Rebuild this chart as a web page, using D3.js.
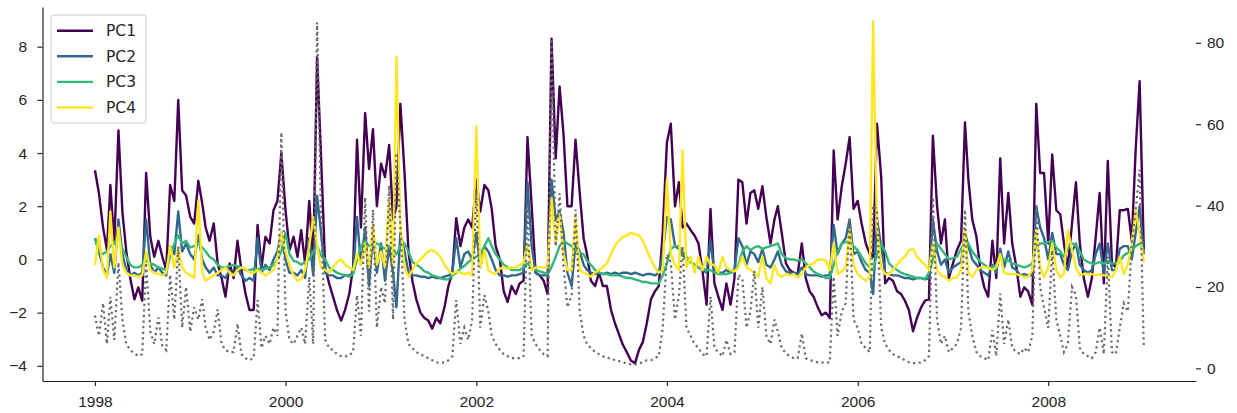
<!DOCTYPE html>
<html lang="en">
<head>
<meta charset="UTF-8">
<title>PC1-PC4 time series</title>
<script src="https://d3js.org/d3.v7.min.js"></script>
<style>
  body { margin: 0; background: #fff; }
  svg { display: block; font-family: 'DejaVu Sans', sans-serif; }
  .axis text { font-size: 15.5px; fill: #262626; }
  .axis path, .axis line { stroke: #262626; stroke-width: 1.2; }
</style>
</head>
<body>
<svg id="chart" width="1237" height="413"></svg>
<script>
// half-month samples from 1998-01-01 to 2009-01-01
const pc1 = [
  3.35, 2.5, 1.2, 0.35, 2.8, 0.6, 4.85, 1.8, 0.3, -0.7,
  -1.5, -1.05, -1.55, 3.25, 0.85, 0.1, 0.7, 0.1, -0.4, 2.8,
  2.2, 6.0, 2.6, 2.4, 1.6, 1.35, 2.95, 2.1, 1.2, 0.7,
  1.35, -0.15, -0.7, -1.4, -0.15, -0.7, 0.7, -0.4, -1.3, -1.9,
  -1.9, 1.3, -0.3, 0.85, 0.6, 1.85, 2.2, 4.0, 1.85, 0.35,
  0.85, 0.1, 1.1, -0.15, 2.2, -0.15, 7.6, 3.9, -0.3, -0.9,
  -1.4, -1.9, -2.3, -1.9, -1.3, -0.3, 4.5, 1.2, 5.5, 3.4,
  4.9, 2.0, 3.6, 3.1, 4.3, 1.5, 2.0, 5.85, 3.25, 0.3,
  -0.8, -1.5, -2.0, -2.2, -2.3, -2.6, -2.2, -2.4, -1.8, -1.0,
  -0.5, 1.55, 0.5, 1.2, 1.5, 1.2, 3.0, 1.8, 2.8, 2.6,
  1.9, 0.5, 0.0, -1.2, -1.6, -1.0, -1.3, -0.9, -0.8, 4.6,
  2.0, -0.5, -0.6, -0.8, -1.3, 8.3, 3.8, 6.5, 4.7, 2.0,
  2.0, 4.5, 2.5, 0.8, 0.2, -0.8, -1.0, -0.5, -1.0, -1.0,
  -1.9, -2.4, -2.8, -3.2, -3.5, -3.8, -3.9, -3.4, -3.1, -2.4,
  -1.5, -1.2, -1.0, 1.0, 4.4, 5.1, 2.0, 2.9, 1.2, 1.35,
  1.1, 0.9, 0.6, -0.4, -1.7, 1.9, -0.9, -1.4, -1.9, -0.9,
  -1.7, -0.7, 3.0, 2.9, 1.35, 2.5, 2.6, 1.9, 2.75, 1.6,
  0.6, 1.5, 2.0, 1.0, -0.15, -0.4, -0.5, -0.55, 0.6, -0.7,
  -1.2, -1.4, -1.8, -2.1, -2.0, -2.2, 4.1, 1.5, 2.75, 3.6,
  4.6, 1.9, 2.2, 1.35, 0.6, 0.2, 0.1, 5.1, 3.1, -0.9,
  -0.7, -0.8, -1.2, -1.3, -1.55, -1.9, -2.7, -2.2, -1.8, -1.55,
  -1.5, 4.65, 2.0, 0.6, 1.5, -0.7, -0.15, 0.35, 0.7, 5.15,
  3.0, 1.5, 0.85, -0.4, -1.05, -1.4, 0.7, -0.7, 3.8, 0.6,
  2.5, 0.6, -0.3, -1.4, -1.05, -1.2, -1.7, 5.85, 3.25, 3.25,
  0.6, 3.95, 1.85, 1.7, 0.6, -0.3, 1.35, 2.9, 0.6, -0.7,
  -1.4, -0.7, 0.85, 2.5, -0.9, 3.7, -0.15, -0.3, 1.85, 1.85,
  1.9, 0.7, 4.15, 6.7, 0.35
];
const pc2 = [
  0.8, 0.3, -0.3, -0.6, 0.2, -0.5, 1.5, 0.2, -0.4, -0.6,
  -0.5, -0.6, -0.5, 1.5, -0.2, -0.5, -0.3, -0.5, -0.6, 0.5,
  0.2, 1.8, 0.3, 0.6, 0.2, 0.0, 0.9, 0.0, -0.3, -0.5,
  -0.3, -0.6, -0.6, -0.7, -0.4, -0.6, -0.3, -0.6, -0.8, -0.7,
  -0.8, 0.8, -0.5, -0.2, -0.4, 0.0, 0.3, 1.0, 0.0, -0.5,
  -0.5, -0.6, -0.4, -0.7, 0.8, -0.6, 2.4, 1.0, -0.5, -0.6,
  -0.6, -0.7, -0.7, -0.6, -0.6, -0.5, 1.6, -0.2, 1.2, -1.0,
  1.0, -0.5, 0.6, -0.8, 0.5, -0.5, -1.8, 1.0, 0.3, -0.5,
  -0.6, -0.6, -0.65, -0.65, -0.7, -0.65, -0.7, -0.7, -0.65, -0.6,
  -0.5, 0.8, -0.3, 0.2, 0.3, 0.0, 1.0, -0.3, 0.5, 0.3,
  0.0, -0.4, -0.6, -0.6, -0.65, -0.6, -0.6, -0.55, -0.5, 2.9,
  0.5, -0.5, -0.6, -0.6, -0.6, 3.0, 1.5, 1.8, 1.0, -0.5,
  -1.0, 0.6, 0.3, -0.2, -0.4, -0.5, -0.55, -0.5, -0.55, -0.5,
  -0.55, -0.5, -0.55, -0.5, -0.5, -0.55, -0.5, -0.55, -0.6, -0.55,
  -0.55, -0.6, -0.5, 0.2, 1.6, 1.5, 0.5, 0.4, 0.2, 0.0,
  -0.1, -0.2, -0.3, -0.4, -0.5, 0.7, -0.5, -0.5, -0.5, -0.4,
  -0.5, -0.4, 0.8, 0.5, -0.2, 0.3, 0.2, -0.1, 0.4, -0.2,
  -0.3, 0.0, 0.3, -0.2, -0.45, -0.5, -0.5, -0.55, -0.3, -0.55,
  -0.6, -0.6, -0.6, -0.65, -0.6, -0.6, 1.3, 0.2, 0.6, 0.8,
  1.5, 0.2, 0.3, -0.1, -0.4, -0.5, -1.3, 1.5, 0.5, -0.5,
  -0.55, -0.6, -0.6, -0.65, -0.7, -0.7, -0.75, -0.7, -0.7, -0.75,
  -0.7, 1.5, 0.3, -0.2, 0.0, -0.5, -0.3, -0.2, -0.1, 1.0,
  0.5, 0.0, -0.2, -0.4, -0.5, -0.6, -0.2, -0.5, 0.4, -0.3,
  0.3, -0.3, -0.4, -0.6, -0.55, -0.6, -0.6, 2.0, 1.2, 0.8,
  0.0, 1.0, 0.2, 0.2, -0.2, -0.4, 0.3, 0.6, -0.2, -0.4,
  -0.5, -0.4, 0.2, 0.6, -0.5, 0.6, -0.4, -0.4, 0.4, 0.5,
  0.5, 0.0, 1.0, 2.0, 0.2
];
const pc3 = [
  0.8, 0.3, 0.2, 0.3, 0.5, 0.6, 0.9, 0.4, 0.1, -0.2,
  -0.3, -0.3, -0.2, -0.05, -0.15, -0.2, -0.3, -0.35, -0.4, 0.1,
  0.6, 0.9, 0.6, 0.7, 0.45, 0.5, 0.6, 0.45, 0.3, 0.1,
  0.0, -0.2, -0.3, -0.3, -0.25, -0.2, -0.25, -0.3, -0.4, -0.4,
  -0.35, -0.35, -0.4, -0.35, -0.3, -0.2, 0.0, 0.3, 1.0, 0.2,
  -0.05, -0.1, -0.2, -0.1, 0.0, 0.3, 0.5, 0.15, 0.0, -0.3,
  -0.4, -0.5, -0.55, -0.6, -0.65, -0.55, 0.0, 0.5, 0.7, 0.5,
  0.55, 0.6, 0.5, 0.4, 0.5, 0.3, 0.2, 0.5, 0.6, 0.3,
  -0.1, -0.2, -0.3, -0.45, -0.5, -0.6, -0.65, -0.7, -0.75, -0.75,
  -0.6, -0.5, -0.35, -0.25, -0.1, 0.0, 0.1, 0.2, 0.5, 0.8,
  0.5, 0.2, 0.0, -0.2, -0.3, -0.4, -0.4, -0.4, -0.3, -0.15,
  -0.3, -0.4, -0.45, -0.5, -0.55, -0.3, 0.1, 0.5, 0.7, 0.6,
  0.5, 0.35, 0.25, 0.2, -0.05, -0.2, -0.4, -0.5, -0.55, -0.55,
  -0.6, -0.6, -0.6, -0.65, -0.7, -0.7, -0.75, -0.8, -0.85, -0.85,
  -0.9, -0.9, -0.9, -0.6, -0.15, 0.4, 0.5, 0.5, 0.3, 0.1,
  -0.1, -0.2, -0.3, -0.35, -0.4, -0.4, -0.5, -0.55, -0.55, -0.55,
  -0.5, -0.45, -0.2, 0.3, 0.5, 0.35, 0.45, 0.5, 0.4, 0.45,
  0.5, 0.55, 0.6, 0.2, 0.05, 0.0, 0.0, -0.05, 0.0, -0.15,
  -0.3, -0.45, -0.55, -0.6, -0.7, -0.7, -0.2, 0.3, 0.6, 0.65,
  0.7, 0.5, 0.35, 0.1, -0.15, -0.3, -0.4, 0.2, 0.6, 0.3,
  -0.15, -0.3, -0.4, -0.5, -0.55, -0.6, -0.65, -0.7, -0.7, -0.73,
  -0.5, 0.0, 0.6, 0.4, 0.2, 0.0, 0.05, 0.1, 0.4, 0.65,
  0.6, 0.3, 0.1, -0.1, -0.2, -0.3, -0.3, -0.2, 0.1, 0.0,
  -0.05, -0.15, -0.2, -0.25, -0.3, -0.25, -0.15, 0.6, 0.6, 0.6,
  0.65, 0.7, 0.45, 0.3, 0.1, 0.4, 0.6, 0.55, 0.3, 0.0,
  -0.1, -0.15, -0.15, -0.1, -0.15, -0.1, -0.15, -0.15, -0.1, 0.15,
  0.25, 0.35, 0.5, 0.6, 0.35
];
const pc4 = [
  -0.2, 0.9, -0.4, -0.7, 1.8, -0.3, 1.2, -0.2, -0.5, -0.6,
  -0.6, -0.65, -0.6, 0.3, -0.4, -0.5, -0.55, -0.6, -0.5, 0.5,
  -0.3, 0.4, -0.3, -0.5, -0.6, -0.7, 2.2, -0.5, -0.8, -0.7,
  -0.6, -0.5, -0.4, -0.3, -0.5, -0.6, -0.4, -0.3, -0.35, -0.5,
  -0.5, -0.4, -0.5, -0.6, -0.5, -0.4, 0.0, 1.0, 0.3, -0.2,
  -0.6, -0.8, -0.75, -0.4, 0.5, 1.6, 0.5, -0.3, -0.4, -0.5,
  -0.3, -0.1, 0.0, -0.2, -0.3, -0.4, 0.2, -0.2, 0.6, -0.3,
  1.3, -0.2, 0.3, -0.3, 2.2, -0.2, 7.6, 1.2, -0.3, -0.65,
  -0.4, -0.15, 0.0, 0.15, 0.3, 0.35, 0.25, 0.1, -0.2, -0.4,
  -0.55, -0.45, -0.5, -0.55, -0.5, -0.6, 5.0, -0.3, 0.35, -0.4,
  -0.5, -0.55, -0.35, -0.3, -0.35, -0.3, -0.3, -0.2, -0.15, 0.6,
  -0.4, -0.3, -0.3, -0.3, -0.3, 2.3, 0.6, 1.7, 0.2, -0.4,
  -0.4, 1.6, -0.4, -0.5, -0.55, -0.65, -0.5, -0.4, -0.3, -0.15,
  0.2, 0.5, 0.7, 0.85, 0.9, 1.0, 0.95, 0.9, 0.7, 0.35,
  0.0, -0.3, -0.5, -0.4, 3.0, 0.2, -0.2, -0.4, 4.1, -0.3,
  0.1, -0.5, 0.1, -0.4, 0.1, -0.2, -0.2, -0.5, 0.1, -0.3,
  -0.4, -0.45, -0.3, 0.1, -0.3, -0.4, -0.5, -0.65, 0.1, -0.7,
  -0.9, -0.2, -0.55, -0.65, -0.55, -0.6, -0.55, -0.67, -0.55, -0.3,
  -0.2, -0.15, 0.0, 0.0, -0.05, -0.4, 0.6, -0.55, -0.45, -0.3,
  1.1, -0.2, -0.55, -0.67, -0.8, -0.67, 8.95, 1.2, -0.3, -0.55,
  -0.55, -0.4, -0.2, 0.0, 0.1, 0.35, 0.4, 0.1, -0.05, -0.2,
  -0.4, 0.6, -0.4, -0.6, -0.65, -0.8, -0.7, -0.67, -0.4, 1.1,
  -0.5, -0.67, -0.4, -0.3, -0.3, -0.3, -0.4, -0.3, 0.2, -0.5,
  -0.55, -0.55, -0.55, -0.6, -0.67, -0.65, -0.4, 1.1, -0.3, -0.67,
  -0.3, 0.6, -0.4, -0.67, -0.55, 1.1, 0.35, -0.3, -0.6, -0.55,
  -0.55, -0.55, -0.6, -0.55, -0.6, -0.6, -0.67, -0.4, 0.1, -0.55,
  -0.2, 0.6, 1.85, 1.0, -0.1
];
// dotted grey series, right-hand axis
const rightSeries = [
  13, 8, 16, 6, 17.6, 7, 26, 12, 6, 4.5,
  3.7, 3, 3.5, 26, 9, 6, 12.5, 5.5, 4.5, 23,
  12, 30, 10, 20, 9, 15, 12, 17, 10, 7,
  9, 14.5, 6, 4.5, 4, 4, 11, 3.5, 2.5, 2,
  2.5, 16.8, 5, 8, 6, 10, 8, 58, 14, 7,
  6, 8, 10, 6, 22.5, 6, 85, 37, 7, 5,
  4.5, 3.5, 3, 2.9, 3.2, 4, 18, 8, 42, 14,
  39, 10, 20, 16, 45, 12, 53, 35, 12, 6,
  5, 4, 3.5, 3, 2.5, 2, 1.5, 1.3, 1.5, 2,
  3, 16.8, 6, 10, 7, 12, 44, 10, 18, 14,
  8, 6, 4.5, 3.5, 3, 2.5, 2.5, 2.5, 3, 40,
  8, 6, 4.5, 3.5, 3, 81, 30, 43, 25, 15,
  18, 39, 14, 8, 6, 5, 4, 3.5, 3, 2.5,
  2.5, 2, 1.8, 1.5, 1.2, 1.0, 1.0, 1.2, 1.5, 2,
  2, 2.5, 3, 10, 28, 26, 12, 18, 30, 10,
  8, 6, 5, 3.5, 3, 17.6, 5, 4, 3, 7,
  3.5, 4, 23, 22, 10, 14, 24, 10, 20, 8,
  6, 12, 9, 5, 3.7, 3, 2.5, 2.5, 8.6, 2.5,
  2, 1.8, 1.5, 1.5, 1.4, 1.5, 22.5, 8, 14, 16,
  37, 12, 10, 6, 5, 4, 40, 39, 10, 6,
  4.5, 3.5, 3, 2.5, 2, 1.5, 1.3, 1.3, 1.5, 2,
  3, 42, 12, 6, 8, 4, 5, 6, 10, 39,
  14, 8, 4, 3, 2.5, 2, 9.4, 3, 18.4, 6,
  12, 5, 4, 3.5, 5, 4, 8, 40, 20, 15,
  10, 29, 12, 8, 4, 6, 20, 18, 5, 3.5,
  3, 2.5, 4, 10, 3.5, 27.5, 4, 3.5, 10, 16,
  14, 30.7, 39, 48.8, 5
];

const seriesNames = ["PC1", "PC2", "PC3", "PC4"];
const seriesColors = ["#440154", "#31688e", "#35b779", "#fde725"];
const yearTicks = [1998, 2000, 2002, 2004, 2006, 2008];
const leftTicks = [-4, -2, 0, 2, 4, 6, 8];
const rightTicks = [0, 20, 40, 60, 80];

const dates = pc1.map((_, i) => new Date(1998, Math.floor(i / 2), i % 2 ? 16 : 1));
const pcs = [pc1, pc2, pc3, pc4];

const plot = {left: 42.5, right: 1196, top: 7, bottom: 381};

const x = d3.scaleTime()
    .domain([new Date(1997, 5, 14), new Date(2009, 6, 20)])
    .range([plot.left, plot.right]);
const yL = d3.scaleLinear().domain([-4.57, 9.49]).range([plot.bottom, plot.top]);
const yR = d3.scaleLinear().domain([-3.1, 88.8]).range([plot.bottom, plot.top]);

const svg = d3.select("#chart");

// PC lines (left axis)
pcs.forEach((vals, k) => {
  const line = d3.line()
      .x((d, i) => x(dates[i]))
      .y(d => yL(d));
  svg.append("path")
      .datum(vals)
      .attr("d", line)
      .attr("fill", "none")
      .attr("stroke", seriesColors[k])
      .attr("stroke-width", 2.4)
      .attr("stroke-linejoin", "round");
});

// dotted series (right axis), drawn on top like a twin axis
svg.append("path")
    .datum(rightSeries)
    .attr("d", d3.line().x((d, i) => x(dates[i])).y(d => yR(d)))
    .attr("fill", "none")
    .attr("stroke", "#6a6a6a")
    .attr("stroke-width", 2.2)
    .attr("stroke-dasharray", "2.2,3.4");

// axes
svg.append("g")
    .attr("class", "axis")
    .attr("transform", `translate(0,${plot.bottom})`)
    .call(d3.axisBottom(x)
      .tickValues(yearTicks.map(y => new Date(y, 0, 1)))
      .tickFormat(d3.timeFormat("%Y"))
      .tickSize(5).tickSizeOuter(0).tickPadding(10));

svg.append("g")
    .attr("class", "axis")
    .attr("transform", `translate(${plot.left},0)`)
    .call(d3.axisLeft(yL).tickValues(leftTicks).tickSize(5).tickSizeOuter(0).tickPadding(10.5));

const right = svg.append("g")
    .attr("class", "axis")
    .attr("transform", `translate(${plot.right},0)`)
    .call(d3.axisRight(yR).tickValues(rightTicks).tickSize(5).tickPadding(6));
right.select(".domain").remove();

// legend
const legend = svg.append("g");
legend.append("rect")
    .attr("x", 51).attr("y", 15).attr("width", 95).attr("height", 108)
    .attr("rx", 3)
    .attr("fill", "#fff").attr("fill-opacity", 0.8)
    .attr("stroke", "#cccccc");
seriesNames.forEach((name, k) => {
  const yy = 30.7 + k * 25.6;
  legend.append("line")
      .attr("x1", 57).attr("x2", 93).attr("y1", yy).attr("y2", yy)
      .attr("stroke", seriesColors[k]).attr("stroke-width", 2.4);
  legend.append("text")
      .attr("x", 106).attr("y", yy).attr("dy", "0.36em")
      .attr("font-size", 15.5).attr("fill", "#262626")
      .text(name);
});
</script>
</body>
</html>
